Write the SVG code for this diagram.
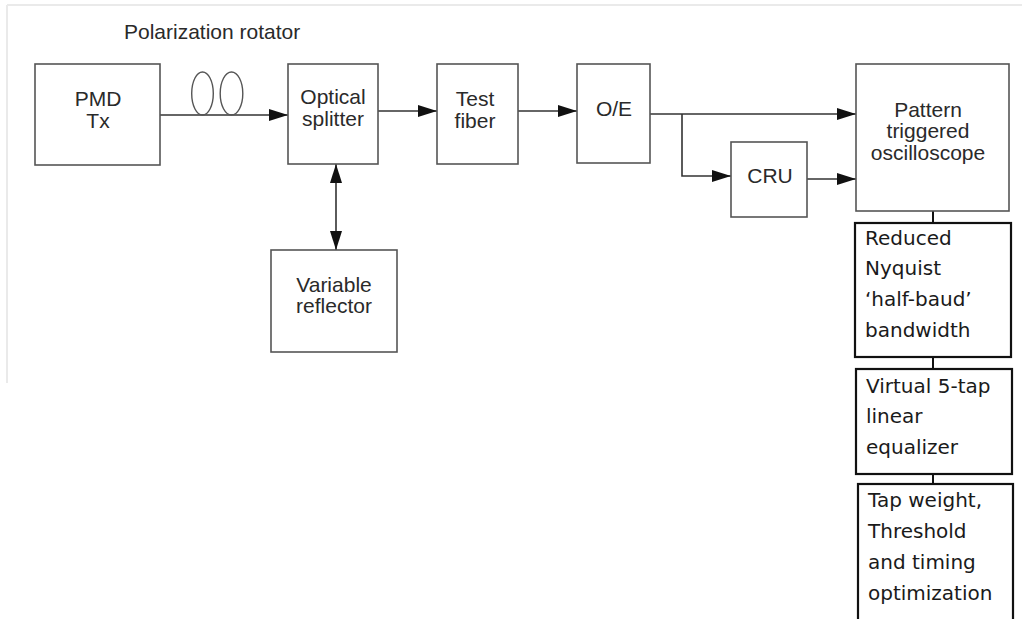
<svg xmlns="http://www.w3.org/2000/svg" width="1022" height="619" viewBox="0 0 1022 619">
<defs>
<marker id="ah" markerWidth="20" markerHeight="12" refX="19" refY="6" orient="auto" markerUnits="userSpaceOnUse">
<path d="M0,0 L19,6 L0,12 Z" fill="#111"/>
</marker>
<marker id="ahs" markerWidth="20" markerHeight="12" refX="19" refY="6" orient="auto-start-reverse" markerUnits="userSpaceOnUse">
<path d="M0,0 L19,6 L0,12 Z" fill="#111"/>
</marker>
</defs>
<style>
.box{fill:#fff;stroke:#555;stroke-width:1.6}
.box2{fill:#fff;stroke:#111;stroke-width:2.2}
.lbl{font-family:"Liberation Sans",Arial,sans-serif;font-size:21px;fill:#2a2a2a;text-anchor:middle}
.lbl2{font-family:"DejaVu Sans",Verdana,sans-serif;font-size:20px;fill:#1a1a1a}
.ln{fill:none;stroke:#333;stroke-width:1.6}
.ln2{fill:none;stroke:#111;stroke-width:2}
.coil{fill:none;stroke:#555;stroke-width:1.4}
</style>
<rect width="1022" height="619" fill="#fff"/>
<g id="frame">
<line x1="7" y1="5" x2="1022" y2="5" stroke="#eaeaea" stroke-width="2"/>
<line x1="7" y1="5" x2="7" y2="383" stroke="#eaeaea" stroke-width="2"/>
</g>
<text class="lbl" x="124" y="39" style="text-anchor:start">Polarization rotator</text>
<g id="connectors">
<line class="ln" x1="160" y1="115" x2="288" y2="115" marker-end="url(#ah)"/>
<line class="ln" x1="378" y1="111" x2="437" y2="111" marker-end="url(#ah)"/>
<line class="ln" x1="518" y1="111" x2="577" y2="111" marker-end="url(#ah)"/>
<line class="ln" x1="650" y1="114" x2="856" y2="114" marker-end="url(#ah)"/>
<polyline class="ln" points="682,114 682,176 731,176" marker-end="url(#ah)"/>
<line class="ln" x1="807" y1="179" x2="856" y2="179" marker-end="url(#ah)"/>
<line class="ln" x1="336" y1="164" x2="336" y2="250" marker-start="url(#ahs)" marker-end="url(#ah)"/>
<line class="ln2" x1="933" y1="211" x2="933" y2="223"/>
<line class="ln2" x1="933" y1="357" x2="933" y2="369"/>
<line class="ln2" x1="933" y1="474" x2="933" y2="484"/>
</g>
<g id="rotator">
<ellipse class="coil" cx="202.5" cy="93.5" rx="10.8" ry="21.5"/>
<ellipse class="coil" cx="231.5" cy="93.5" rx="11.3" ry="21.5"/>
</g>
<g id="pmdtx">
<rect class="box" x="35" y="64" width="125" height="101"/>
<text class="lbl" x="98" y="106">PMD</text>
<text class="lbl" x="98" y="128">Tx</text>
</g>
<g id="splitter">
<rect class="box" x="288" y="64" width="90" height="100"/>
<text class="lbl" x="333" y="104">Optical</text>
<text class="lbl" x="333" y="126">splitter</text>
</g>
<g id="testfiber">
<rect class="box" x="437" y="64" width="81" height="100"/>
<text class="lbl" x="475" y="106">Test</text>
<text class="lbl" x="475" y="128">fiber</text>
</g>
<g id="oe">
<rect class="box" x="577" y="64" width="73" height="99"/>
<text class="lbl" x="614" y="116">O/E</text>
</g>
<g id="cru">
<rect class="box" x="731" y="142" width="76" height="75"/>
<text class="lbl" x="770" y="183">CRU</text>
</g>
<g id="scope">
<rect class="box" x="856" y="64" width="153" height="147"/>
<text class="lbl" x="928" y="117">Pattern</text>
<text class="lbl" x="928" y="138">triggered</text>
<text class="lbl" x="928" y="160">oscilloscope</text>
</g>
<g id="reflector">
<rect class="box" x="271" y="250" width="126" height="102"/>
<text class="lbl" x="334" y="292">Variable</text>
<text class="lbl" x="334" y="313">reflector</text>
</g>
<g id="nyquist">
<rect class="box2" x="855" y="223" width="156" height="134"/>
<text class="lbl2" x="865" y="245">Reduced</text>
<text class="lbl2" x="865" y="275">Nyquist</text>
<text class="lbl2" x="865" y="306">‘half-baud’</text>
<text class="lbl2" x="865" y="337">bandwidth</text>
</g>
<g id="equalizer">
<rect class="box2" x="856" y="369" width="156" height="105"/>
<text class="lbl2" x="866" y="393">Virtual 5-tap</text>
<text class="lbl2" x="866" y="423">linear</text>
<text class="lbl2" x="866" y="454">equalizer</text>
</g>
<g id="optim">
<rect class="box2" x="858" y="484" width="155" height="145"/>
<text class="lbl2" x="868" y="507">Tap weight,</text>
<text class="lbl2" x="868" y="538">Threshold</text>
<text class="lbl2" x="868" y="569">and timing</text>
<text class="lbl2" x="868" y="600">optimization</text>
</g>
</svg>
